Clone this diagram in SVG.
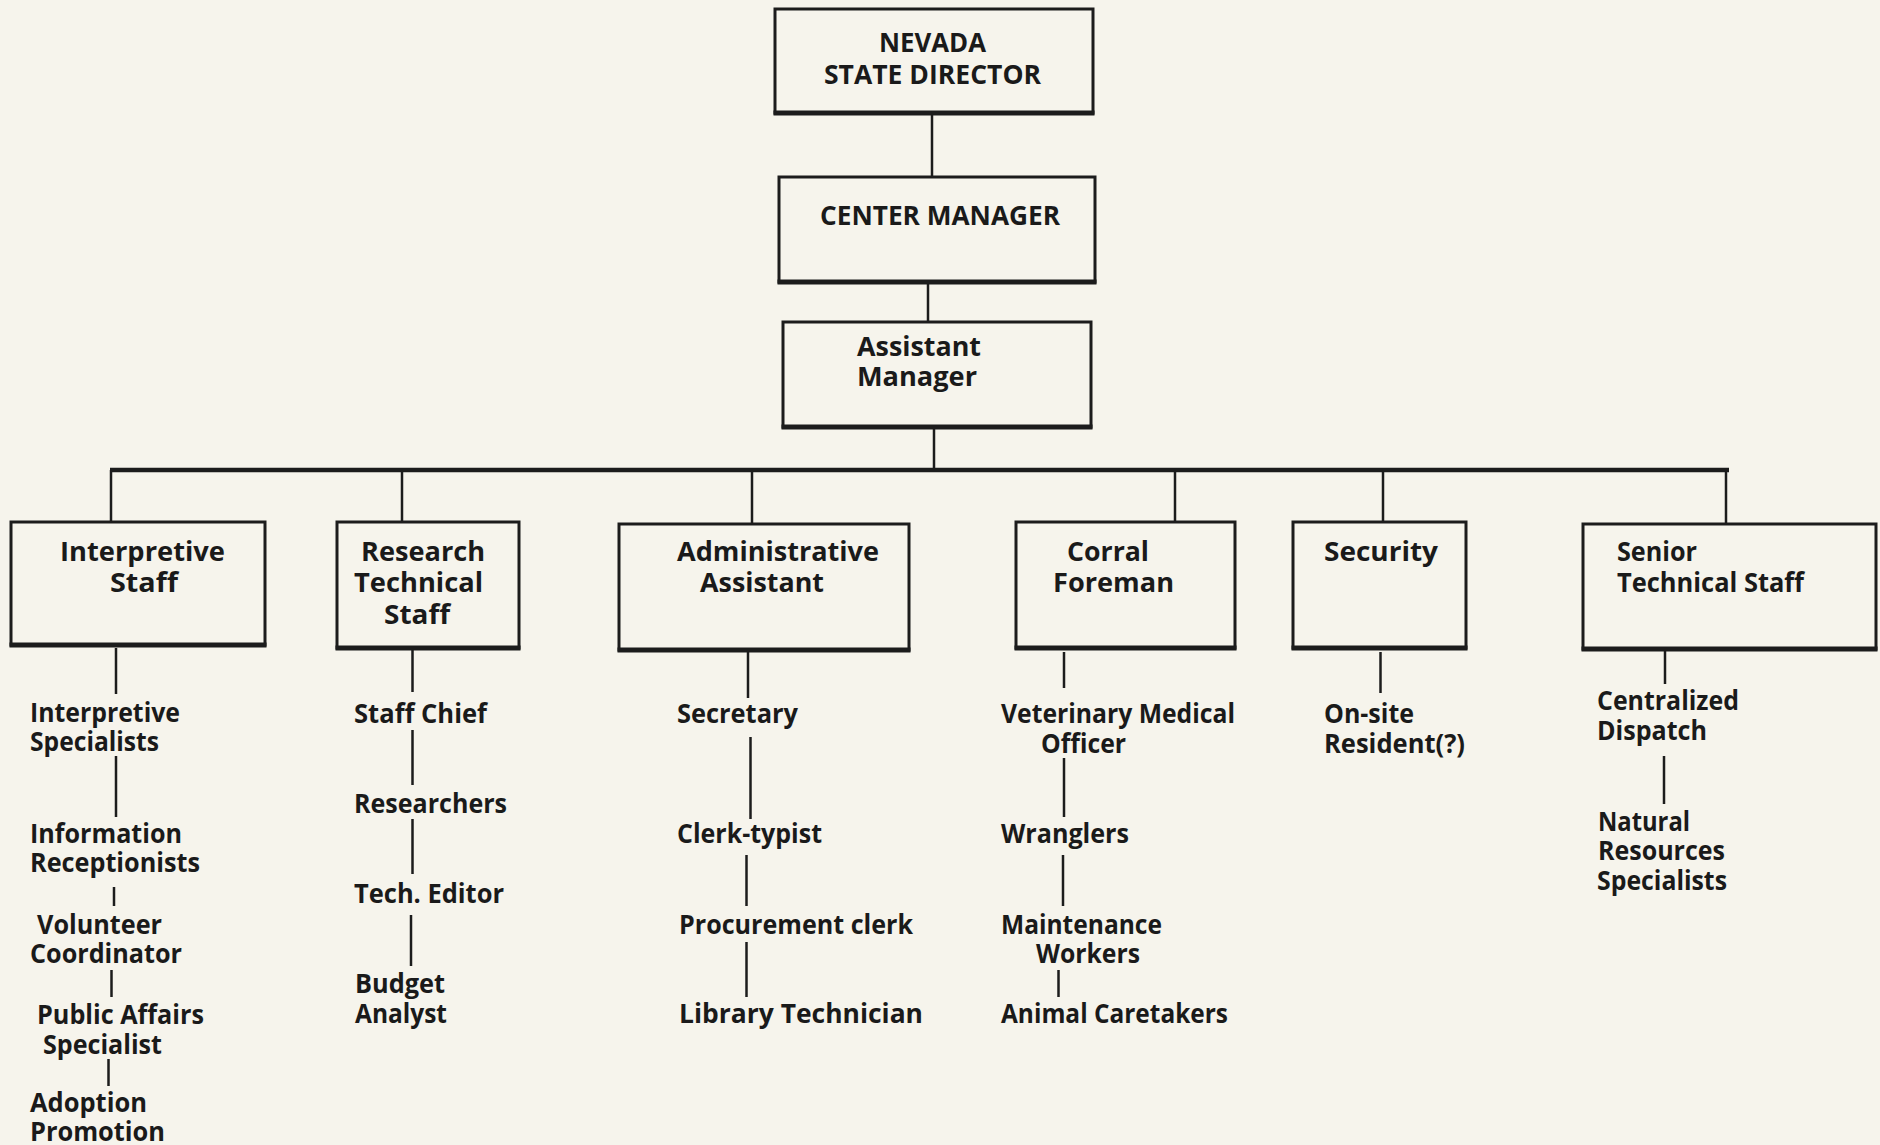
<svg xmlns="http://www.w3.org/2000/svg" width="1880" height="1145" viewBox="0 0 1880 1145">
<style>
.bg{fill:#f6f4ec}
.box{fill:none;stroke:#1c1c1c;stroke-width:3}
.sh{stroke:#1c1c1c;stroke-width:5}
.ln{stroke:#1c1c1c;stroke-width:2.5;fill:none}
.bar{stroke:#1c1c1c;stroke-width:4.5;fill:none}
text{font-family:"Open Sans","Noto Sans","DejaVu Sans",sans-serif;font-weight:700;font-size:26px;fill:#1a1a1a}
</style>
<rect class="bg" x="0" y="0" width="1880" height="1145"/>
<g id="connectors">
<line class="ln" x1="932" y1="115" x2="932" y2="177"/>
<line class="ln" x1="928" y1="283" x2="928" y2="322"/>
<line class="ln" x1="934" y1="428" x2="934" y2="470"/>
<line class="bar" x1="110" y1="470" x2="1729" y2="470"/>
<line class="ln" x1="111" y1="470" x2="111" y2="522"/>
<line class="ln" x1="402" y1="470" x2="402" y2="522"/>
<line class="ln" x1="752" y1="470" x2="752" y2="524"/>
<line class="ln" x1="1175" y1="470" x2="1175" y2="522"/>
<line class="ln" x1="1383" y1="470" x2="1383" y2="522"/>
<line class="ln" x1="1726" y1="470" x2="1726" y2="523"/>
<line class="ln" x1="116" y1="648" x2="116" y2="694"/>
<line class="ln" x1="116" y1="756" x2="116" y2="817"/>
<line class="ln" x1="114" y1="887" x2="114" y2="906"/>
<line class="ln" x1="111.5" y1="970" x2="111.5" y2="997"/>
<line class="ln" x1="108.5" y1="1059" x2="108.5" y2="1086"/>
<line class="ln" x1="412.5" y1="650" x2="412.5" y2="692"/>
<line class="ln" x1="412.5" y1="730" x2="412.5" y2="785"/>
<line class="ln" x1="412.5" y1="819" x2="412.5" y2="874"/>
<line class="ln" x1="411" y1="915" x2="411" y2="966"/>
<line class="ln" x1="748" y1="652" x2="748" y2="698"/>
<line class="ln" x1="750.5" y1="737" x2="750.5" y2="819"/>
<line class="ln" x1="746.5" y1="855" x2="746.5" y2="906"/>
<line class="ln" x1="746.5" y1="942" x2="746.5" y2="997"/>
<line class="ln" x1="1064" y1="652" x2="1064" y2="688"/>
<line class="ln" x1="1064" y1="758" x2="1064" y2="817"/>
<line class="ln" x1="1063" y1="855" x2="1063" y2="906"/>
<line class="ln" x1="1058.5" y1="970" x2="1058.5" y2="997"/>
<line class="ln" x1="1380.5" y1="652" x2="1380.5" y2="693"/>
<line class="ln" x1="1665" y1="651" x2="1665" y2="684"/>
<line class="ln" x1="1664" y1="756" x2="1664" y2="804"/>
</g>
<g id="state-director">
<rect class="box" x="775" y="9" width="318" height="104"/>
<line class="sh" x1="773.5" y1="113" x2="1094.5" y2="113"/>
<text x="879" y="52" textLength="107" lengthAdjust="spacingAndGlyphs">NEVADA</text>
<text x="824" y="84" textLength="217" lengthAdjust="spacingAndGlyphs">STATE DIRECTOR</text>
</g>
<g id="center-manager">
<rect class="box" x="779" y="177" width="316" height="105"/>
<line class="sh" x1="777.5" y1="282" x2="1096.5" y2="282"/>
<text x="820" y="225" textLength="240" lengthAdjust="spacingAndGlyphs">CENTER MANAGER</text>
</g>
<g id="assistant-manager">
<rect class="box" x="783" y="322" width="308" height="105"/>
<line class="sh" x1="781.5" y1="427" x2="1092.5" y2="427"/>
<text x="857" y="356" textLength="124" lengthAdjust="spacingAndGlyphs">Assistant</text>
<text x="857" y="386" textLength="120" lengthAdjust="spacingAndGlyphs">Manager</text>
</g>
<g id="interpretive-staff">
<rect class="box" x="11" y="522" width="254" height="123"/>
<line class="sh" x1="9.5" y1="645" x2="266.5" y2="645"/>
<text x="60" y="561" textLength="165" lengthAdjust="spacingAndGlyphs">Interpretive</text>
<text x="110" y="592" textLength="68" lengthAdjust="spacingAndGlyphs">Staff</text>
</g>
<g id="research-technical-staff">
<rect class="box" x="337" y="522" width="182" height="126"/>
<line class="sh" x1="335.5" y1="648" x2="520.5" y2="648"/>
<text x="361" y="561" textLength="124" lengthAdjust="spacingAndGlyphs">Research</text>
<text x="354" y="592" textLength="129" lengthAdjust="spacingAndGlyphs">Technical</text>
<text x="384" y="624" textLength="66" lengthAdjust="spacingAndGlyphs">Staff</text>
</g>
<g id="administrative-assistant">
<rect class="box" x="619" y="524" width="290" height="126"/>
<line class="sh" x1="617.5" y1="650" x2="910.5" y2="650"/>
<text x="677" y="561" textLength="202" lengthAdjust="spacingAndGlyphs">Administrative</text>
<text x="700" y="592" textLength="124" lengthAdjust="spacingAndGlyphs">Assistant</text>
</g>
<g id="corral-foreman">
<rect class="box" x="1016" y="522" width="219" height="126"/>
<line class="sh" x1="1014.5" y1="648" x2="1236.5" y2="648"/>
<text x="1067" y="561" textLength="82" lengthAdjust="spacingAndGlyphs">Corral</text>
<text x="1053" y="592" textLength="121" lengthAdjust="spacingAndGlyphs">Foreman</text>
</g>
<g id="security">
<rect class="box" x="1293" y="522" width="173" height="126"/>
<line class="sh" x1="1291.5" y1="648" x2="1467.5" y2="648"/>
<text x="1324" y="561" textLength="114" lengthAdjust="spacingAndGlyphs">Security</text>
</g>
<g id="senior-technical-staff">
<rect class="box" x="1583" y="524" width="293" height="125"/>
<line class="sh" x1="1581.5" y1="649" x2="1877.5" y2="649"/>
<text x="1617" y="561" textLength="80" lengthAdjust="spacingAndGlyphs">Senior</text>
<text x="1617" y="592" textLength="187" lengthAdjust="spacingAndGlyphs">Technical Staff</text>
</g>
<g id="interpretive-specialists"><text x="30" y="722" textLength="150" lengthAdjust="spacingAndGlyphs">Interpretive</text><text x="30" y="751" textLength="129" lengthAdjust="spacingAndGlyphs">Specialists</text></g>
<g id="information-receptionists"><text x="30" y="843" textLength="152" lengthAdjust="spacingAndGlyphs">Information</text><text x="30" y="872" textLength="170" lengthAdjust="spacingAndGlyphs">Receptionists</text></g>
<g id="volunteer-coordinator"><text x="37" y="934" textLength="125" lengthAdjust="spacingAndGlyphs">Volunteer</text><text x="30" y="963" textLength="152" lengthAdjust="spacingAndGlyphs">Coordinator</text></g>
<g id="public-affairs-specialist"><text x="37" y="1024" textLength="167" lengthAdjust="spacingAndGlyphs">Public Affairs</text><text x="43" y="1054" textLength="119" lengthAdjust="spacingAndGlyphs">Specialist</text></g>
<g id="adoption-promotion"><text x="30" y="1112" textLength="117" lengthAdjust="spacingAndGlyphs">Adoption</text><text x="30" y="1141" textLength="135" lengthAdjust="spacingAndGlyphs">Promotion</text></g>
<g id="staff-chief"><text x="354" y="723" textLength="133" lengthAdjust="spacingAndGlyphs">Staff Chief</text></g>
<g id="researchers"><text x="354" y="813" textLength="153" lengthAdjust="spacingAndGlyphs">Researchers</text></g>
<g id="tech-editor"><text x="354" y="903" textLength="150" lengthAdjust="spacingAndGlyphs">Tech. Editor</text></g>
<g id="budget-analyst"><text x="355" y="993" textLength="90" lengthAdjust="spacingAndGlyphs">Budget</text><text x="355" y="1023" textLength="92" lengthAdjust="spacingAndGlyphs">Analyst</text></g>
<g id="secretary"><text x="677" y="723" textLength="121" lengthAdjust="spacingAndGlyphs">Secretary</text></g>
<g id="clerk-typist"><text x="677" y="843" textLength="145" lengthAdjust="spacingAndGlyphs">Clerk-typist</text></g>
<g id="procurement-clerk"><text x="679" y="934" textLength="234" lengthAdjust="spacingAndGlyphs">Procurement clerk</text></g>
<g id="library-technician"><text x="679" y="1023" textLength="244" lengthAdjust="spacingAndGlyphs">Library Technician</text></g>
<g id="veterinary-medical-officer"><text x="1001" y="723" textLength="234" lengthAdjust="spacingAndGlyphs">Veterinary Medical</text><text x="1041" y="753" textLength="85" lengthAdjust="spacingAndGlyphs">Officer</text></g>
<g id="wranglers"><text x="1001" y="843" textLength="128" lengthAdjust="spacingAndGlyphs">Wranglers</text></g>
<g id="maintenance-workers"><text x="1001" y="934" textLength="161" lengthAdjust="spacingAndGlyphs">Maintenance</text><text x="1036" y="963" textLength="104" lengthAdjust="spacingAndGlyphs">Workers</text></g>
<g id="animal-caretakers"><text x="1001" y="1023" textLength="227" lengthAdjust="spacingAndGlyphs">Animal Caretakers</text></g>
<g id="on-site-resident"><text x="1324" y="723" textLength="90" lengthAdjust="spacingAndGlyphs">On-site</text><text x="1324" y="753" textLength="141" lengthAdjust="spacingAndGlyphs">Resident(?)</text></g>
<g id="centralized-dispatch"><text x="1597" y="710" textLength="142" lengthAdjust="spacingAndGlyphs">Centralized</text><text x="1597" y="740" textLength="110" lengthAdjust="spacingAndGlyphs">Dispatch</text></g>
<g id="natural-resources-specialists"><text x="1598" y="831" textLength="92" lengthAdjust="spacingAndGlyphs">Natural</text><text x="1598" y="860" textLength="127" lengthAdjust="spacingAndGlyphs">Resources</text><text x="1597" y="890" textLength="130" lengthAdjust="spacingAndGlyphs">Specialists</text></g>
</svg>
